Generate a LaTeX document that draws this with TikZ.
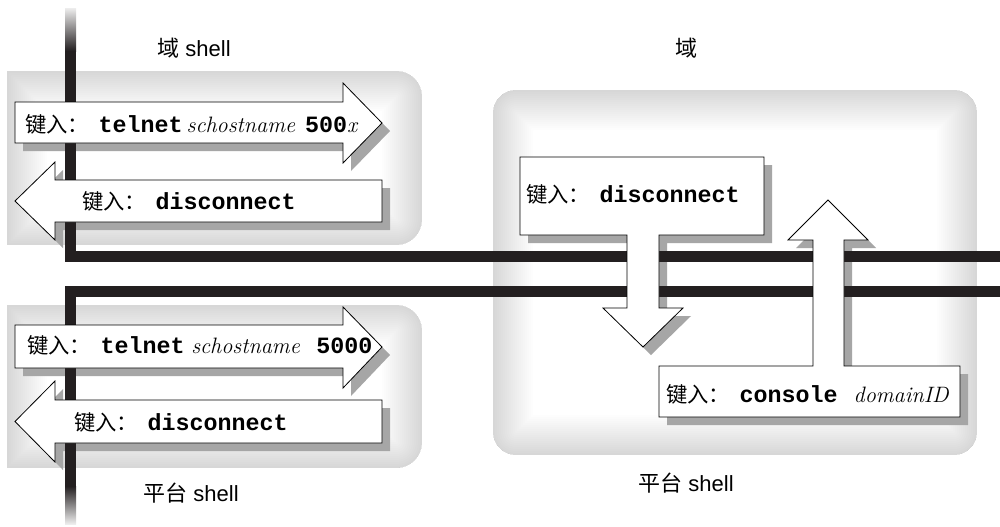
\documentclass[tikz,border=0pt]{standalone}
\usepackage{fontspec}
\newfontfamily\cjkfont{Noto Sans CJK SC}
\newfontfamily\codefont{Liberation Mono}
\newfontfamily\helvfont{Liberation Sans}
\definecolor{linecol}{RGB}{35,31,32}
\definecolor{shadowgray}{RGB}{166,166,166}

\newcommand{\keyin}{\makebox[55pt][l]{\cjkfont\fontsize{16}{16}\selectfont 键入：}}
\newcommand{\ttb}{\codefont\bfseries\fontsize{17.5}{17.5}\selectfont}
\newcommand{\itx}{\rmfamily\itshape\fontsize{16.7}{16.7}\selectfont}

%grey regions
\newcommand{\boxdomain}[1]{\path[#1] (7,71) [rounded corners=19pt] -- (422,71) -- (422,245) [sharp corners] -- (7,245) -- cycle;}
\newcommand{\boxplat}[1]{\path[#1] (7,305) [rounded corners=19pt] -- (422,305) -- (422,468) [sharp corners] -- (7,468) -- cycle;}
\newcommand{\boxright}[1]{\path[#1,rounded corners=17pt] (493,90) rectangle (977,455);}
\newcommand{\glow}[1]{%
	\begin{scope}
		#1{clip}
		#1{fill=white}
		\foreach \w in {4,8,...,80}{#1{draw=black,opacity=0.009,line width=\w*0.75pt}}
	\end{scope}}

%arrow shapes
\newcommand{\arrtelA}[1]{\path[#1] (15,102) -- (343,102) -- (343,83) -- (382,123) -- (343,163) -- (343,143) -- (15,143) -- cycle;}
\newcommand{\arrdiscA}[1]{\path[#1] (382,180) -- (55,180) -- (55,162) -- (15,201) -- (55,240) -- (55,222) -- (382,222) -- cycle;}
\newcommand{\arrtelB}[1]{\path[#1] (15,325) -- (343,325) -- (343,307) -- (382,347) -- (343,388) -- (343,368) -- (15,368) -- cycle;}
\newcommand{\arrdiscB}[1]{\path[#1] (382,400) -- (55,400) -- (55,381) -- (15,421.5) -- (55,462) -- (55,443) -- (382,443) -- cycle;}
\newcommand{\arrdown}[1]{\path[#1] (520,157) -- (764,157) -- (764,235) -- (659,235) -- (659,308) -- (683,308) -- (643,347) -- (603,308) -- (627,308) -- (627,235) -- (520,235) -- cycle;}
\newcommand{\arrup}[1]{\path[#1] (659,417) -- (659,366) -- (813,366) -- (813,240) -- (788,240) -- (828,200) -- (868,240) -- (844,240) -- (844,366) -- (960,366) -- (960,417) -- cycle;}

\begin{document}
\begin{tikzpicture}[x=0.75pt,y=-0.75pt,
	arrowbox/.style={fill=white,draw=black,line width=0.6pt},
	keytext/.style={anchor=base west,inner sep=0pt},
	shelllabel/.style={inner sep=0pt,font=\helvfont\fontsize{16.5}{16.5}\selectfont}]
	\useasboundingbox (0,0) rectangle (1000,526);
	%grey regions
	\glow{\boxdomain}
	\glow{\boxplat}
	\glow{\boxright}
	%shadows
	\foreach \shp in {\arrtelA,\arrdiscA,\arrtelB,\arrdiscB,\arrdown,\arrup}
		{\shp{fill=shadowgray,shift={(8,8)}}}
	%connection lines
	\draw[linecol,line width=8.25pt] (70.5,50) -- (70.5,256.5) -- (1000,256.5);
	\draw[linecol,line width=8.25pt] (1000,291.5) -- (70.5,291.5) -- (70.5,487);
	\shade[top color=linecol!8,bottom color=linecol] (65,8) rectangle (76,51);
	\shade[top color=linecol,bottom color=linecol!8] (65,486) rectangle (76,524);
	%arrows
	\foreach \shp in {\arrtelA,\arrdiscA,\arrtelB,\arrdiscB,\arrdown,\arrup}
		{\shp{arrowbox}}
	%commands
	\node[keytext] (telA) at (25,132) {\keyin{\ttb telnet}\hspace{3pt}{\itx schostname}\hspace{7.5pt}{\ttb 500}{\itx x}};
	\node[keytext] (discA) at (82,209) {\keyin{\ttb disconnect}};
	\node[keytext] (telB) at (27,353) {\keyin{\ttb telnet}\hspace{5pt}{\itx schostname}\hspace{12.5pt}{\ttb 5000}};
	\node[keytext] (discB) at (74,430) {\keyin{\ttb disconnect}};
	\node[keytext] (discC) at (526,202) {\keyin{\ttb disconnect}};
	\node[keytext] (cons) at (666,402) {\keyin{\ttb console}\hspace{12pt}{\itx domainID}};
	%labels
	\node[shelllabel] (domshell) at (194,48) {{\cjkfont 域} shell};
	\node[shelllabel] (dom) at (686,48) {\cjkfont 域};
	\node[shelllabel] (platA) at (191,493) {{\cjkfont 平台} shell};
	\node[shelllabel] (platB) at (686,483) {{\cjkfont 平台} shell};
\end{tikzpicture}
\end{document}
